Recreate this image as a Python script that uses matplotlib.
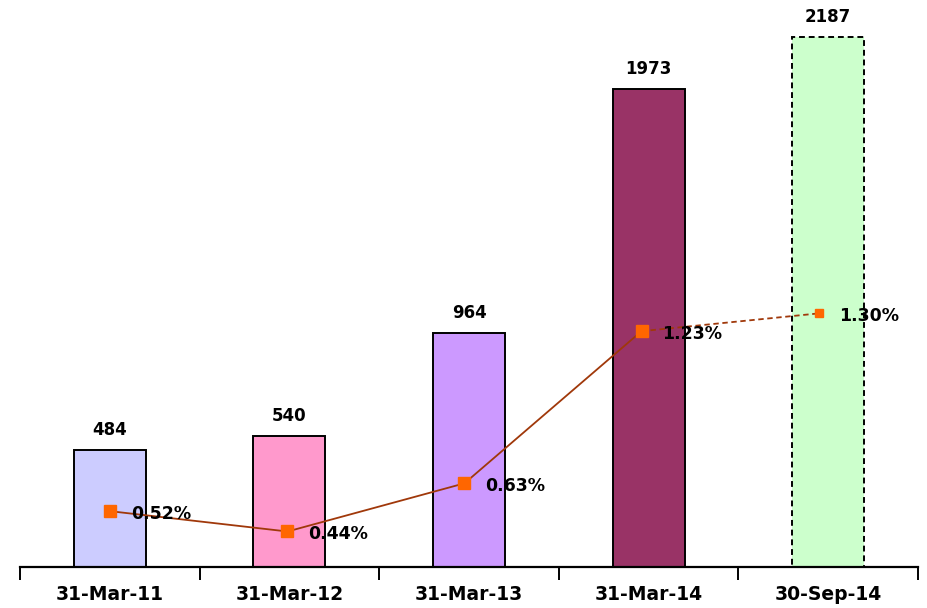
import numpy as np
import matplotlib
matplotlib.use('Agg')
import matplotlib.pyplot as plt

# data
dates = ['31-Mar-11', '31-Mar-12', '31-Mar-13', '31-Mar-14', '30-Sep-14']
values = [484, 540, 964, 1973, 2187]
pct = [0.52, 0.44, 0.63, 1.23, 1.30]
pct_labels = ['0.52%', '0.44%', '0.63%', '1.23%', '1.30%']

bar_colors = ['#CCCCFF', '#FF99CC', '#CC99FF', '#993366', '#CCFFCC']
line_color = '#A0380A'
marker_color = '#FF6600'

fig = plt.figure(figsize=(9.27, 6.08), dpi=100)
rect = [20 / 927, 41 / 608, 898 / 927, 567 / 608]
ax = fig.add_axes(rect)

x = np.arange(len(dates))
bars = ax.bar(x, values, width=0.4, color=bar_colors, edgecolor='black', linewidth=1.4)
bars[-1].set_linestyle((0, (3, 2)))

ax.set_xlim(-0.5, 4.49)
ax.set_ylim(0, 2340)

# value labels above bars
for xi, v in zip(x, values):
    ax.annotate(str(v), (xi, v), xytext=(0, 8), textcoords='offset points',
                ha='center', va='bottom', fontsize=12, fontweight='bold')

# spines / ticks
for s in ['left', 'right', 'top']:
    ax.spines[s].set_visible(False)
ax.spines['bottom'].set_linewidth(1.6)
ax.set_yticks([])
ax.set_xticks(x)
ax.set_xticklabels(dates, fontsize=13.5, fontweight='bold')
ax.tick_params(axis='x', which='major', length=0, pad=13)
ax.set_xticks(np.arange(-0.5, 5.0, 1.0), minor=True)
ax.tick_params(axis='x', which='minor', length=9, width=1.4, direction='out')

# line on its own axes (slightly different category spacing)
ax2 = fig.add_axes(rect, frameon=False)
ax2.set_xlim(-0.511, 4.562)
ax2.set_ylim(0.30, 2.536)
ax2.set_xticks([])
ax2.set_yticks([])

ax2.plot(x[:4], pct[:4], color=line_color, linewidth=1.3, zorder=2)
ax2.plot(x[3:], pct[3:], color=line_color, linewidth=1.3, linestyle=(0, (3, 2)), zorder=2)
ax2.plot(x[:4], pct[:4], linestyle='none', marker='s', markersize=9,
         color=marker_color, zorder=3)
ax2.plot(x[4:], pct[4:], linestyle='none', marker='s', markersize=6,
         color=marker_color, zorder=3)

for xi, p, lab in zip(x, pct, pct_labels):
    ax2.annotate(lab, (xi, p), xytext=(15, -2), textcoords='offset points',
                 ha='left', va='center', fontsize=12.5, fontweight='bold', zorder=4)

fig.savefig('out.png', dpi=100)
